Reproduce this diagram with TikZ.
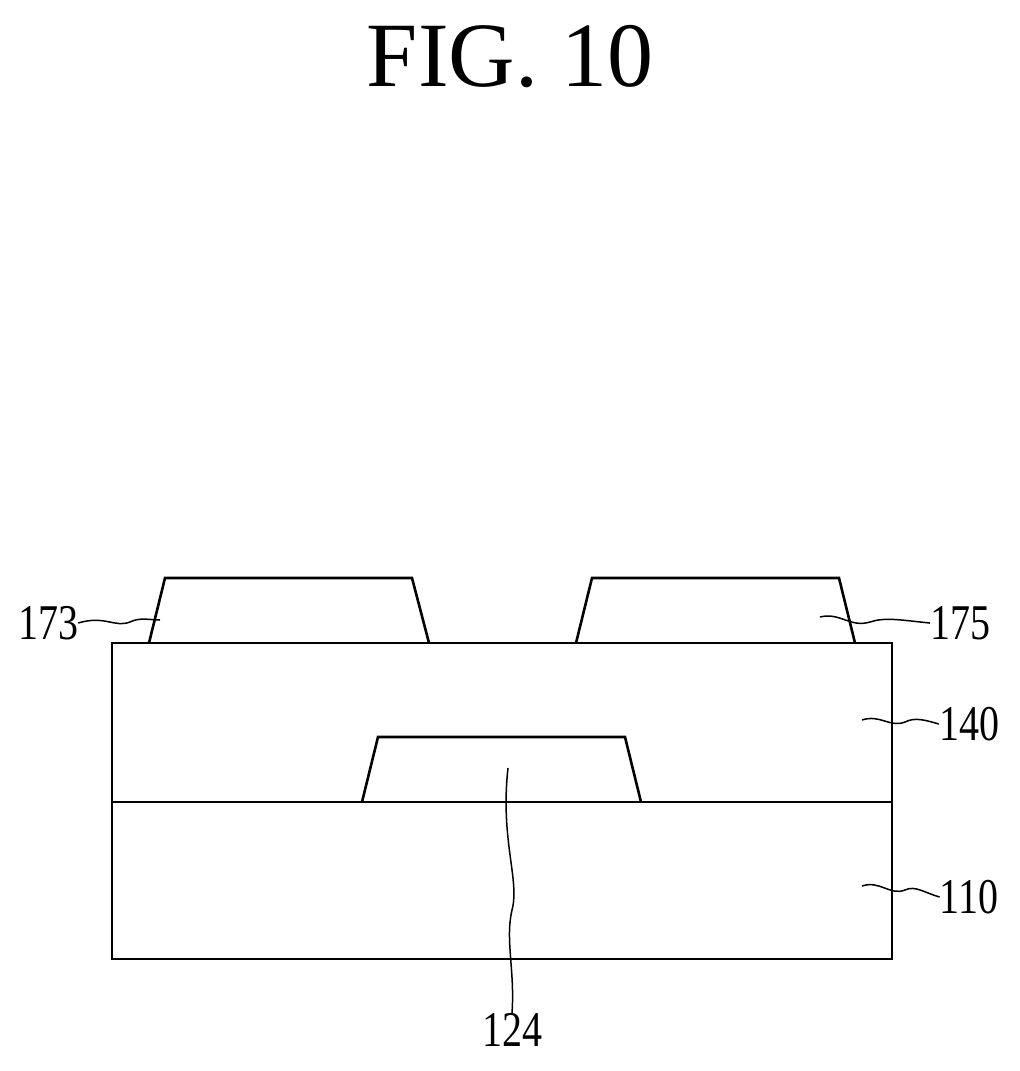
\documentclass[tikz,border=0pt]{standalone}
\usepackage{fontspec}
\setmainfont{Liberation Serif}
\begin{document}
\begin{tikzpicture}[x=1pt,y=-1pt,
  part/.style={draw=black,line width=2.6pt,line join=miter},
  lead/.style={draw=black,line width=1.5pt},
  lbl/.style={font=\fontsize{50}{50}\selectfont,xscale=0.8,inner sep=0pt}]
\useasboundingbox (0,0) rectangle (1020,1071);
\node[font=\fontsize{92}{92}\selectfont,inner sep=0pt] (title) at (510,57) {FIG. 10};
\draw[part] (112,643) rectangle (892,959);
\draw[part] (112,802) -- (892,802);
\draw[part] (362,802) -- (378,737) -- (625,737) -- (641,802);
\draw[part] (149,643) -- (165,578) -- (412,578) -- (429,643);
\draw[part] (576,643) -- (592,578) -- (839,578) -- (855,643);
\node[lbl] (l173) at (48,623) {173};
\node[lbl] (l175) at (960,623) {175};
\node[lbl] (l140) at (969,724) {140};
\node[lbl] (l110) at (969,897) {110};
\node[lbl] (l124) at (512,1030) {124};
\coordinate (a1) at (160,620);
\coordinate (a2) at (820,617);
\coordinate (a3) at (862,720);
\coordinate (a4) at (862,886);
\coordinate (a5) at (508,768);
\draw[lead] (l173.east) .. controls (105,615) and (115,628) .. (130,622) .. controls (140,617) and (150,620) .. (a1);
\draw[lead] (a2) .. controls (840,612) and (850,628) .. (870,622) .. controls (885,617) and (900,620) .. (l175.west);
\draw[lead] (a3) .. controls (880,714) and (890,728) .. (905,722) .. controls (915,717) and (925,720) .. (l140.west);
\draw[lead] (a4) .. controls (880,880) and (890,896) .. (905,890) .. controls (915,885) and (925,893) .. (l110.west);
\draw[lead] (a5) .. controls (500,840) and (520,880) .. (512,910) .. controls (505,940) and (515,970) .. (l124.north);
\end{tikzpicture}
\end{document}
